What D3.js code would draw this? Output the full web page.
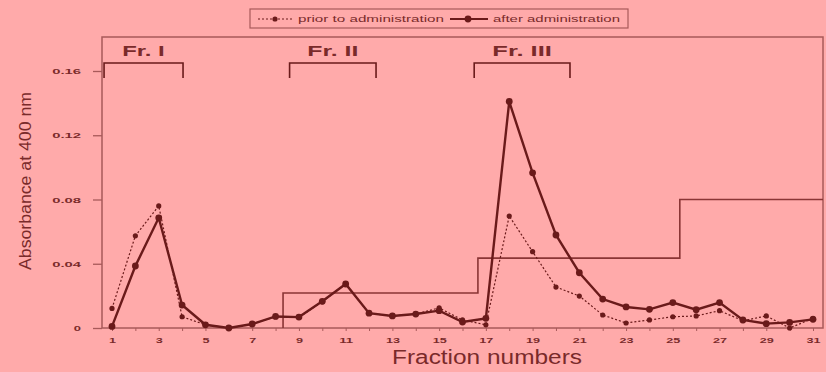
<!DOCTYPE html>
<html>
<head>
<meta charset="utf-8">
<script src="https://cdn.jsdelivr.net/npm/d3@7"></script>
<style>
  body { margin: 0; background: #ffaaaa; }
  svg { display: block; font-family: "Liberation Sans", Arial, sans-serif; }
</style>
</head>
<body>
<svg id="chart" width="826" height="372"></svg>
<script>
// fraction numbers 1..31
const fractions = d3.range(1, 32);
const priorValues = [0.0122, 0.0574, 0.076, 0.007, 0.002, 0.0, 0.0025, 0.007, 0.0066, 0.0164,
                     0.0274, 0.0091, 0.0075, 0.0087, 0.0125, 0.005, 0.002, 0.0697, 0.0475, 0.0255,
                     0.0199, 0.0081, 0.0031, 0.005, 0.007, 0.0075, 0.0108, 0.0045, 0.0075, 0.0, 0.006];
const afterValues = [0.001, 0.0386, 0.0686, 0.0143, 0.002, 0.0, 0.0025, 0.0072, 0.0068, 0.0166,
                     0.0274, 0.0092, 0.0075, 0.0087, 0.0108, 0.0037, 0.006, 0.141, 0.0966, 0.0579,
                     0.0344, 0.018, 0.0131, 0.0116, 0.0158, 0.0114, 0.0158, 0.005, 0.0027, 0.0035, 0.0054];
// salt gradient steps: [fraction where step rises, level]
const stepX = [8.32, 16.66, 25.3];
const stepLevels = [0.0218, 0.0435, 0.080];
// bracketed fraction groups
const groups = [
  { name: 'Fr. I', from: 0.66, to: 4.04 },
  { name: 'Fr. II', from: 8.6, to: 12.3 },
  { name: 'Fr. III', from: 16.5, to: 20.6 }
];
const xTicks = d3.range(1, 32, 2);
const yTicks = [0, 0.04, 0.08, 0.12, 0.16];

const ink = '#6a1a1a';
const frame = '#a85a5a';
const textCol = '#7a2a2a';

const svg = d3.select('#chart');
const box = { left: 102, right: 823, top: 37, bottom: 328 };

const x = d3.scaleLinear().domain([1, 31]).range([112, 813]);
const y = d3.scaleLinear().domain([0, 0.16]).range([328, 71]);

// frame
svg.append('rect')
   .attr('x', box.left).attr('y', box.top)
   .attr('width', box.right - box.left).attr('height', box.bottom - box.top)
   .attr('fill', 'none').attr('stroke', frame).attr('stroke-width', 1.5);

// y axis
const yAxis = d3.axisLeft(y)
    .tickValues(yTicks)
    .tickSize(9)
    .tickPadding(12)
    .tickFormat(d => d === 0 ? '0' : d3.format('.2f')(d));
svg.append('g')
   .attr('transform', 'translate(' + box.left + ',0)')
   .call(yAxis)
   .call(g => g.select('.domain').remove())
   .call(g => g.selectAll('line').attr('stroke', frame).attr('stroke-width', 1.3))
   .call(g => g.selectAll('text')
      .attr('fill', textCol).attr('font-size', 8).attr('font-weight', 'bold')
      .attr('lengthAdjust', 'spacingAndGlyphs')
      .attr('textLength', function() { return this.textContent.length * 7.2; }));

// x axis
const xAxis = d3.axisBottom(x)
    .tickValues(fractions)
    .tickSize(3)
    .tickPadding(6)
    .tickFormat(d => xTicks.includes(d) ? d : '');
svg.append('g')
   .attr('transform', 'translate(0,' + box.bottom + ')')
   .call(xAxis)
   .call(g => g.select('.domain').remove())
   .call(g => g.selectAll('line').attr('stroke', frame))
   .call(g => g.selectAll('text').filter(function() { return this.textContent !== ''; })
      .attr('fill', textCol).attr('font-size', 8).attr('font-weight', 'bold')
      .attr('lengthAdjust', 'spacingAndGlyphs')
      .attr('textLength', function() { return this.textContent.length * 7; }));

// axis titles
svg.append('text')
   .attr('transform', 'translate(31,181) rotate(-90)')
   .attr('text-anchor', 'middle')
   .attr('font-size', 16)
   .attr('fill', textCol)
   .attr('lengthAdjust', 'spacingAndGlyphs')
   .attr('textLength', 178)
   .text('Absorbance at 400 nm');

svg.append('text')
   .attr('x', 487).attr('y', 364)
   .attr('text-anchor', 'middle')
   .attr('font-size', 20)
   .attr('fill', textCol)
   .attr('lengthAdjust', 'spacingAndGlyphs')
   .attr('textLength', 190)
   .text('Fraction numbers');

// step gradient line
const xEnd = x.invert(box.right);
let stepPts = [[stepX[0], 0]];
stepX.forEach((sx, i) => {
  stepPts.push([sx, stepLevels[i]]);
  stepPts.push([i + 1 < stepX.length ? stepX[i + 1] : xEnd, stepLevels[i]]);
});
svg.append('path')
   .datum(stepPts)
   .attr('fill', 'none')
   .attr('stroke', '#8a3535')
   .attr('stroke-width', 1.6)
   .attr('d', d3.line().x(d => x(d[0])).y(d => y(d[1])));

// brackets
const br = svg.append('g').attr('class', 'brackets');
groups.forEach(gr => {
  const x0 = x(gr.from), x1 = x(gr.to);
  br.append('path')
    .attr('fill', 'none').attr('stroke', ink).attr('stroke-width', 1.6)
    .attr('d', 'M' + x0 + ',78V63H' + x1 + 'V78');
  br.append('text')
    .attr('x', (x0 + x1) / 2).attr('y', 56)
    .attr('text-anchor', 'middle')
    .attr('font-size', 15).attr('font-weight', 'bold')
    .attr('fill', textCol)
    .attr('lengthAdjust', 'spacingAndGlyphs')
    .attr('textLength', gr.name.length * 8.5)
    .text(gr.name);
});

// series
const line = d3.line().x((d, i) => x(fractions[i])).y(d => y(d));

svg.append('path')
   .datum(priorValues)
   .attr('fill', 'none').attr('stroke', ink)
   .attr('stroke-width', 1.2).attr('stroke-dasharray', '2,2')
   .attr('d', line);
svg.selectAll('.dot-prior').data(priorValues).enter()
   .append('circle')
   .attr('class', 'dot-prior')
   .attr('cx', (d, i) => x(fractions[i])).attr('cy', d => y(d))
   .attr('r', 2.6).attr('fill', ink);

svg.append('path')
   .datum(afterValues)
   .attr('fill', 'none').attr('stroke', ink)
   .attr('stroke-width', 2.4)
   .attr('d', line);
svg.selectAll('.dot-after').data(afterValues).enter()
   .append('circle')
   .attr('class', 'dot-after')
   .attr('cx', (d, i) => x(fractions[i])).attr('cy', d => y(d))
   .attr('r', 3.4).attr('fill', ink);

// legend
const lg = svg.append('g');
lg.append('rect')
  .attr('x', 250).attr('y', 9).attr('width', 378).attr('height', 19)
  .attr('fill', 'none').attr('stroke', frame).attr('stroke-width', 1.2);
lg.append('line').attr('x1', 258).attr('x2', 292).attr('y1', 19).attr('y2', 19)
  .attr('stroke', ink).attr('stroke-dasharray', '2,2');
lg.append('circle').attr('cx', 275).attr('cy', 19).attr('r', 2.6).attr('fill', ink);
lg.append('text').attr('x', 298).attr('y', 22).attr('font-size', 9)
  .attr('fill', textCol).attr('lengthAdjust', 'spacingAndGlyphs')
  .attr('textLength', 146).text('prior to administration');
lg.append('line').attr('x1', 450).attr('x2', 488).attr('y1', 19).attr('y2', 19)
  .attr('stroke', ink).attr('stroke-width', 2);
lg.append('circle').attr('cx', 468).attr('cy', 19).attr('r', 3.4).attr('fill', ink);
lg.append('text').attr('x', 493).attr('y', 22).attr('font-size', 9)
  .attr('fill', textCol).attr('lengthAdjust', 'spacingAndGlyphs')
  .attr('textLength', 127).text('after administration');
</script>
</body>
</html>
